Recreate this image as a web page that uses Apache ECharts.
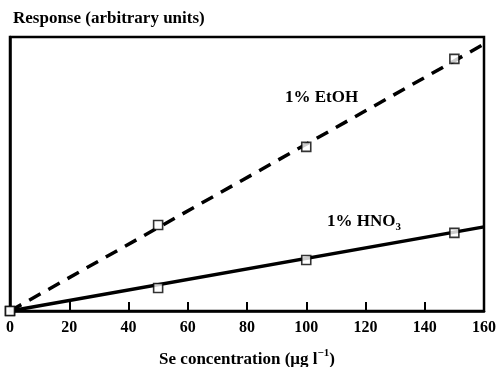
<!DOCTYPE html>
<html>
<head>
<meta charset="utf-8">
<script src="https://cdn.jsdelivr.net/npm/echarts@6/dist/echarts.min.js"></script>
<style>
  html, body { margin: 0; padding: 0; background: #fff; }
  #chart { width: 496px; height: 367px; }
</style>
</head>
<body>
<div id="chart"></div>
<script>
// measured points (Se concentration, response)
const concentrations = [0, 50, 100, 150];
const etohResponse = [0, 31.4, 59.9, 92.0];
const hno3Response = [0, 8.4, 18.6, 28.5];

// fitted calibration lines, drawn across the whole axis
const fitX = [0, 160];
const etohFit = [0, 97.4];
const hno3Fit = [0, 30.7];

const xTickLabels = ["0", "20", "40", "60", "80", "100", "120", "140", "160"];

const FONT = "Liberation Serif";

const pairs = (xs, ys) => xs.map((x, i) => [x, ys[i]]);

const chart = echarts.init(document.getElementById("chart"), null, { renderer: "canvas" });

const markerStyle = { color: "#fff", borderColor: "#000", borderWidth: 1.6 };

chart.setOption({
  animation: false,
  backgroundColor: "#fff",
  title: {
    text: "Response (arbitrary units)",
    left: 8,
    top: 5,
    textStyle: { fontFamily: FONT, fontWeight: "bold", fontSize: 17, color: "#000" },
  },
  grid: {
    left: 10, right: 12, top: 37, bottom: 56,
    outerBoundsMode: "none",
    show: true, borderColor: "#000", borderWidth: 2.5,
  },
  xAxis: {
    type: "value",
    min: 0, max: 160, interval: 20,
    splitLine: { show: false },
    axisLine: { lineStyle: { color: "#000", width: 2.5 } },
    axisTick: { inside: true, length: 9, lineStyle: { color: "#000", width: 2 } },
    axisLabel: {
      margin: 9,
      fontFamily: FONT, fontWeight: "bold", fontSize: 16, color: "#000",
      formatter: (v) => xTickLabels[Math.round(v / 20)],
    },
    name: "{n|Se concentration (μg l}{sup|−1}{n|)}",
    nameLocation: "middle",
    nameGap: 37,
    nameTextStyle: {
      rich: {
        n: { fontFamily: FONT, fontWeight: "bold", fontSize: 17, color: "#000", lineHeight: 20, verticalAlign: "bottom" },
        sup: { fontFamily: FONT, fontWeight: "bold", fontSize: 11, color: "#000", lineHeight: 12, verticalAlign: "top" },
      },
    },
  },
  yAxis: {
    type: "value",
    min: 0, max: 100,
    splitLine: { show: false },
    axisLine: { show: true, lineStyle: { color: "#000", width: 2.5 } },
    axisTick: { show: false },
    axisLabel: { show: false },
  },
  series: [
    {
      name: "EtOH fit",
      type: "line",
      data: pairs(fitX, etohFit),
      symbol: "none",
      lineStyle: { color: "#000", width: 3.5, type: [13, 9] },
      z: 2,
    },
    {
      name: "HNO3 fit",
      type: "line",
      data: pairs(fitX, hno3Fit),
      symbol: "none",
      lineStyle: { color: "#000", width: 3.5 },
      z: 2,
    },
    {
      name: "1% EtOH",
      type: "scatter",
      data: pairs(concentrations, etohResponse),
      symbol: "rect",
      symbolSize: 9,
      itemStyle: markerStyle,
      z: 3,
    },
    {
      name: "1% HNO3",
      type: "scatter",
      data: pairs(concentrations, hno3Response),
      symbol: "rect",
      symbolSize: 9,
      itemStyle: markerStyle,
      z: 3,
    },
  ],
  graphic: [
    {
      type: "text",
      left: 285, top: 89,
      style: { text: "1% EtOH", font: `bold 17px "${FONT}"`, fill: "#000" },
    },
    {
      type: "text",
      left: 327, top: 213,
      style: {
        text: "{n|1% HNO}{sub|3}",
        fill: "#000",
        rich: {
          n: { font: `bold 17px "${FONT}"`, lineHeight: 20, verticalAlign: "top" },
          sub: { font: `bold 11px "${FONT}"`, lineHeight: 12, verticalAlign: "bottom" },
        },
      },
    },
  ],
});
</script>
</body>
</html>
